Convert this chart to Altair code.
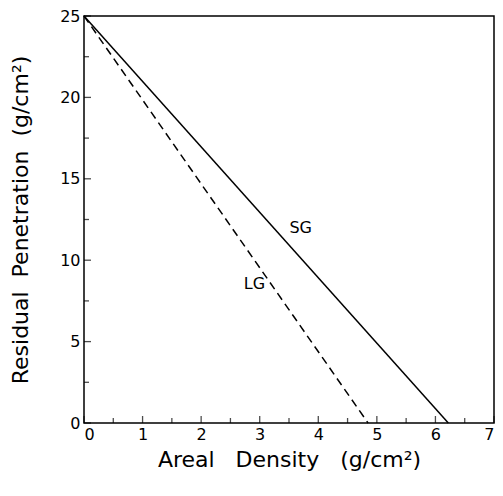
import altair as alt
import pandas as pd

# Data
sg_x = [0.0, 6.22]
sg_y = [25.0, 0.0]
lg_x = [0.0, 4.85]
lg_y = [25.0, 0.0]

x_major = [0, 1, 2, 3, 4, 5, 6, 7]
x_minor = [0.5, 1.5, 2.5, 3.5, 4.5, 5.5, 6.5]
y_major = [0, 5, 10, 15, 20, 25]
y_minor = [2.5, 7.5, 12.5, 17.5, 22.5]

label_text = ["SG", "LG"]
label_x = [3.70, 2.91]
label_y = [12.0, 8.55]

FONT = "DejaVu Sans"
SP3 = "\u00a0\u00a0\u00a0"
SP2 = "\u00a0\u00a0"

xs = alt.Scale(domain=[0, 7], nice=False, zero=False)
ys = alt.Scale(domain=[0, 25], nice=False, zero=False)

sg = pd.DataFrame({"x": sg_x, "y": sg_y})
lg = pd.DataFrame({"x": lg_x, "y": lg_y})

x_axis = alt.Axis(values=x_major, ticks=False, domain=False, grid=False,
                  labelFontSize=16, labelPadding=3, format="d",
                  title=f"Areal{SP3}Density{SP3}(g/cm²)", titleFontSize=22,
                  titleFontWeight="normal", titlePadding=7, labelColor="black",
                  titleColor="black", labelFont=FONT, titleFont=FONT)
y_axis = alt.Axis(values=y_major, ticks=False, domain=False, grid=False,
                  labelFontSize=16, labelPadding=4, format="d",
                  title=f"Residual{SP2}Penetration{SP2}(g/cm²)", titleFontSize=22,
                  titleFontWeight="normal", titlePadding=27, labelColor="black",
                  titleColor="black", labelFont=FONT, titleFont=FONT)

sg_line = alt.Chart(sg).mark_line(color="black", strokeWidth=1.5).encode(
    x=alt.X("x:Q", scale=xs, axis=x_axis),
    y=alt.Y("y:Q", scale=ys, axis=y_axis),
)
lg_line = alt.Chart(lg).mark_line(color="black", strokeWidth=1.5, strokeDash=[8, 5]).encode(
    x=alt.X("x:Q", scale=xs),
    y=alt.Y("y:Q", scale=ys),
)

xt_major = alt.Chart(pd.DataFrame({"v": x_major})).mark_tick(
    orient="vertical", size=7, thickness=1.3, color="black", yOffset=-3.5
).encode(x=alt.X("v:Q", scale=xs), y=alt.datum(0))
xt_minor = alt.Chart(pd.DataFrame({"v": x_minor})).mark_tick(
    orient="vertical", size=5, thickness=1.3, color="black", yOffset=-2.5
).encode(x=alt.X("v:Q", scale=xs), y=alt.datum(0))
yt_major = alt.Chart(pd.DataFrame({"v": y_major})).mark_tick(
    orient="horizontal", size=7, thickness=1.3, color="black", xOffset=3.5
).encode(y=alt.Y("v:Q", scale=ys), x=alt.datum(0))
yt_minor = alt.Chart(pd.DataFrame({"v": y_minor})).mark_tick(
    orient="horizontal", size=5, thickness=1.3, color="black", xOffset=2.5
).encode(y=alt.Y("v:Q", scale=ys), x=alt.datum(0))

labels = alt.Chart(pd.DataFrame({"t": label_text, "x": label_x, "y": label_y})).mark_text(
    fontSize=16, font=FONT, color="black"
).encode(x=alt.X("x:Q", scale=xs), y=alt.Y("y:Q", scale=ys), text="t:N")

chart = alt.layer(sg_line, lg_line, xt_major, xt_minor, yt_major, yt_minor, labels).properties(
    width=410, height=407,
    autosize=alt.AutoSizeParams(type="none"),
    padding={"left": 76, "top": 8, "right": 1, "bottom": 55},
    background="white",
).configure_view(stroke="black", strokeWidth=1.5)

chart.save("out.html", embed_options={"renderer": "svg", "actions": False})
